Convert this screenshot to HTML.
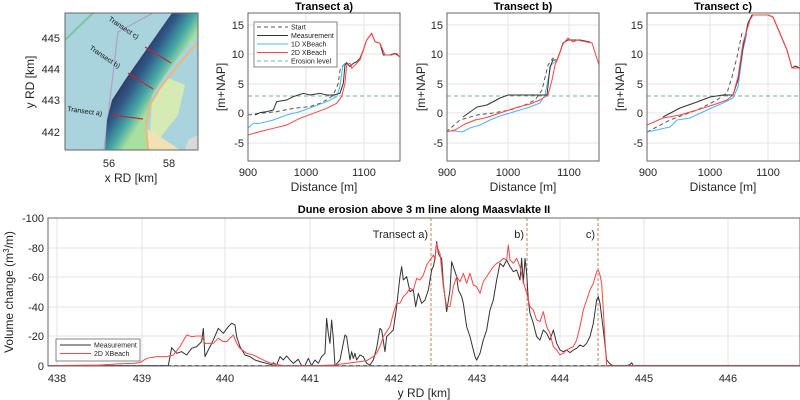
<!DOCTYPE html>
<html><head><meta charset="utf-8"><style>
body{margin:0;background:#fff}
svg{display:block;font-family:"Liberation Sans",Arial,sans-serif}
.t{font-size:11px;fill:#262626}
.ti{font-size:11px;font-weight:bold;fill:#000}
.lab{font-size:12px;fill:#262626}
.g{stroke:#e3e3e3;stroke-width:1}
.ax{fill:none;stroke:#666;stroke-width:1}
.ln{fill:none;stroke-width:1;stroke-linejoin:round}
</style></head><body>
<svg width="800" height="400" viewBox="0 0 800 400">
<defs>
<clipPath id="cm"><rect x="65" y="13" width="133" height="137"/></clipPath>
<clipPath id="ca"><rect x="248" y="13" width="152" height="148"/></clipPath>
<clipPath id="cb"><rect x="447" y="13" width="152" height="148"/></clipPath>
<clipPath id="cc"><rect x="647" y="13" width="153" height="148"/></clipPath>
<clipPath id="cd"><rect x="48" y="218" width="752" height="148"/></clipPath>
<linearGradient id="dg" gradientUnits="userSpaceOnUse" x1="118" y1="70" x2="158" y2="95">
<stop offset="0" stop-color="#2a1d45"/><stop offset="0.45" stop-color="#2f5a88"/><stop offset="0.75" stop-color="#45a8a5"/><stop offset="1" stop-color="#a8e0a0"/></linearGradient>
</defs>

<!-- MAP -->
<g clip-path="url(#cm)">
<rect x="65" y="13" width="133" height="137" fill="#a9d4de"/>
<polygon points="150,135 152,100 168,78 185,85 178,115 160,138" fill="#d6ebb3"/>
<polygon points="145,150 146,128 165,140 180,150" fill="#f2e1b3"/>
<polygon points="188,140 198,135 198,150 185,150" fill="#d9d9d9"/>
<polyline points="65,40 93,13" fill="none" stroke="#7fc4a0" stroke-width="2"/>
<polyline points="104,150 118,32 153,13" fill="none" stroke="#b49fc4" stroke-width="1.2"/>
<polygon points="105,150 107,120 112,100 125,80 160,30 172,13 198,13 198,35 180,55 165,75 152,95 148,115 147,150" fill="url(#dg)"/>
<polyline points="148,150 146,125 150,105 160,88 178,65 198,42" fill="none" stroke="#f0b878" stroke-width="2"/>
<g stroke="#d02030" stroke-width="1.2">
<line x1="112" y1="115" x2="143" y2="119"/><line x1="128" y1="73" x2="153" y2="89"/><line x1="145" y1="47" x2="171" y2="63"/></g>
<g font-size="7" fill="#111">
<text transform="translate(67,111) rotate(8)">Transect a)</text>
<text transform="translate(89,49) rotate(34)">Transect b)</text>
<text transform="translate(108,20) rotate(34)">Transect c)</text></g>
</g>
<rect class="ax" x="65" y="13" width="133" height="137"/>
<g class="t" text-anchor="end"><text x="60" y="42">445</text><text x="60" y="73">444</text><text x="60" y="104">443</text><text x="60" y="136">442</text></g>
<g class="t" text-anchor="middle"><text x="109" y="167">56</text><text x="169" y="167">58</text></g>
<text class="lab" x="131" y="182" text-anchor="middle">x RD [km]</text>
<text class="lab" transform="translate(34,82) rotate(-90)" text-anchor="middle">y RD [km]</text>

<!-- PANEL TEMPLATE: grids -->
<g class="g">
<line x1="248" x2="400" y1="25" y2="25"/><line x1="248" x2="400" y1="54" y2="54"/><line x1="248" x2="400" y1="84" y2="84"/><line x1="248" x2="400" y1="113" y2="113"/><line x1="248" x2="400" y1="143" y2="143"/>
<line x1="306" x2="306" y1="13" y2="161"/><line x1="364" x2="364" y1="13" y2="161"/>
<line x1="447" x2="599" y1="25" y2="25"/><line x1="447" x2="599" y1="54" y2="54"/><line x1="447" x2="599" y1="84" y2="84"/><line x1="447" x2="599" y1="113" y2="113"/><line x1="447" x2="599" y1="143" y2="143"/>
<line x1="508" x2="508" y1="13" y2="161"/><line x1="569" x2="569" y1="13" y2="161"/>
<line x1="647" x2="800" y1="25" y2="25"/><line x1="647" x2="800" y1="54" y2="54"/><line x1="647" x2="800" y1="84" y2="84"/><line x1="647" x2="800" y1="113" y2="113"/><line x1="647" x2="800" y1="143" y2="143"/>
<line x1="710" x2="710" y1="13" y2="161"/><line x1="768" x2="768" y1="13" y2="161"/>
</g>

<!-- Panel a -->
<g clip-path="url(#ca)">
<line x1="248" x2="400" y1="96" y2="96" stroke="#6fb59a" stroke-dasharray="4,3"/>
<g transform="translate(260,0) scale(0.3333)">
<polyline class="ln" vector-effect="non-scaling-stroke" stroke="#555" stroke-dasharray="4,3" points="-36,345 0,340 50,335 100,325 150,320 180,310 200,300 220,285 235,250 240,210 250,195 262,190"/>
<polyline class="ln" vector-effect="non-scaling-stroke" stroke="#4db3ff" points="-36,384 -20,370 0,370 40,360 80,345 120,335 160,320 200,305 230,290 240,260 248,200 255,190 260,192"/>
<polyline class="ln" vector-effect="non-scaling-stroke" stroke="#333" points="-15,345 0,338 20,335 40,330 50,305 80,300 100,290 130,280 150,285 180,280 200,285 220,285 240,280 250,250 255,195 260,188 270,200 280,190 290,185 300,175 310,150 320,120 335,100 345,125 360,130 370,165 390,165 405,160 418,170"/>
<polyline class="ln" vector-effect="non-scaling-stroke" stroke="#ff4545" points="-36,405 0,395 40,385 80,375 120,355 160,340 200,325 230,310 245,290 255,250 260,195 270,190 275,205 285,195 300,180 320,120 335,100 345,125 360,130 375,165 395,165 410,160 418,170"/>
</g></g>
<rect class="ax" x="248" y="13" width="152" height="148"/>
<text class="ti" x="324" y="10" text-anchor="middle">Transect a)</text>
<g class="t" text-anchor="end"><text x="244" y="29">15</text><text x="244" y="58">10</text><text x="244" y="88">5</text><text x="244" y="117">0</text><text x="244" y="147">-5</text></g>
<g class="t" text-anchor="middle"><text x="248" y="176">900</text><text x="306" y="176">1000</text><text x="364" y="176">1100</text></g>
<text class="lab" x="324" y="191" text-anchor="middle">Distance [m]</text>
<text class="lab" transform="translate(225,87) rotate(-90)" text-anchor="middle">[m+NAP]</text>
<!-- legend a -->
<rect x="254" y="22" width="83" height="45" fill="#fff" stroke="#666" stroke-width="0.8"/>
<g stroke-width="1">
<line x1="257" x2="288" y1="27" y2="27" stroke="#555" stroke-dasharray="4,3"/>
<line x1="257" x2="288" y1="35.5" y2="35.5" stroke="#333"/>
<line x1="257" x2="288" y1="44" y2="44" stroke="#4db3ff"/>
<line x1="257" x2="288" y1="52.5" y2="52.5" stroke="#ff4545"/>
<line x1="257" x2="288" y1="61" y2="61" stroke="#6fb59a" stroke-dasharray="4,3"/></g>
<g font-size="7" fill="#222"><text x="291" y="29.5">Start</text><text x="291" y="38">Measurement</text><text x="291" y="46.5">1D XBeach</text><text x="291" y="55">2D XBeach</text><text x="291" y="63.5">Erosion level</text></g>

<!-- Panel b -->
<g clip-path="url(#cb)">
<line x1="447" x2="599" y1="96" y2="96" stroke="#6fb59a" stroke-dasharray="4,3"/>
<polyline class="ln" stroke="#555" stroke-dasharray="4,3" points="446,132 460,120 477,115 493,113 510,110 525,105 535,100 542,90 548,65 553,58 556,62"/>
<polyline class="ln" stroke="#4db3ff" points="446,131 455,131 462,132 470,128 480,125 490,120 500,116 510,113 520,110 530,107 540,103 545,95 548,80 551,65 555,62"/>
<polyline class="ln" stroke="#333" points="463,117 477,107 487,105 500,98 508,95 547,95 550,67 553,60 557,60 560,52 563,43 568,40 572,40 576,40 580,40 590,42"/>
<polyline class="ln" stroke="#ff4545" points="446,132 455,130 465,124 475,120 485,118 500,113 515,108 530,104 540,100 548,95 552,80 555,65 558,58 563,44 568,38 573,42 577,40 592,43 599,65"/>
</g>
<rect class="ax" x="447" y="13" width="152" height="148"/>
<text class="ti" x="523" y="10" text-anchor="middle">Transect b)</text>
<g class="t" text-anchor="end"><text x="443" y="29">15</text><text x="443" y="58">10</text><text x="443" y="88">5</text><text x="443" y="117">0</text><text x="443" y="147">-5</text></g>
<g class="t" text-anchor="middle"><text x="447" y="176">900</text><text x="508" y="176">1000</text><text x="569" y="176">1100</text></g>
<text class="lab" x="523" y="191" text-anchor="middle">Distance [m]</text>
<text class="lab" transform="translate(425,87) rotate(-90)" text-anchor="middle">[m+NAP]</text>

<!-- Panel c -->
<g clip-path="url(#cc)">
<line x1="647" x2="800" y1="96" y2="96" stroke="#6fb59a" stroke-dasharray="4,3"/>
<polyline class="ln" stroke="#555" stroke-dasharray="4,3" points="647,132 670,120 697,110 717,100 727,93 732,77 737,57 742,33"/>
<polyline class="ln" stroke="#4db3ff" points="647,132 670,127 677,120 690,118 707,110 723,103 733,98 738,87 743,50 747,33"/>
<polyline class="ln" stroke="#333" points="663,117 680,108 697,102 710,97 723,95 733,95 738,80 743,47 748,23 752,15 768,15 773,17 787,50 792,68 795,66 800,68"/>
<polyline class="ln" stroke="#ff4545" points="647,125 663,118 680,115 697,110 713,105 727,100 733,95 738,77 743,43 750,20 753,15 768,15 773,17 787,50 792,68 800,68"/>
</g>
<rect class="ax" x="647" y="13" width="153" height="148"/>
<text class="ti" x="723" y="10" text-anchor="middle">Transect c)</text>
<g class="t" text-anchor="end"><text x="643" y="29">15</text><text x="643" y="58">10</text><text x="643" y="88">5</text><text x="643" y="117">0</text><text x="643" y="147">-5</text></g>
<g class="t" text-anchor="middle"><text x="648" y="176">900</text><text x="710" y="176">1000</text><text x="768" y="176">1100</text></g>
<text class="lab" x="723" y="191" text-anchor="middle">Distance [m]</text>
<text class="lab" transform="translate(624,87) rotate(-90)" text-anchor="middle">[m+NAP]</text>

<!-- BOTTOM -->
<g class="g">
<line x1="48" x2="800" y1="248" y2="248"/><line x1="48" x2="800" y1="277" y2="277"/><line x1="48" x2="800" y1="307" y2="307"/><line x1="48" x2="800" y1="336" y2="336"/>
<line x1="57" x2="57" y1="218" y2="366"/><line x1="142" x2="142" y1="218" y2="366"/><line x1="225" x2="225" y1="218" y2="366"/><line x1="310" x2="310" y1="218" y2="366"/><line x1="394" x2="394" y1="218" y2="366"/><line x1="477" x2="477" y1="218" y2="366"/><line x1="560" x2="560" y1="218" y2="366"/><line x1="644" x2="644" y1="218" y2="366"/><line x1="728" x2="728" y1="218" y2="366"/>
</g>
<g clip-path="url(#cd)">
<line x1="48" x2="800" y1="365.5" y2="365.5" stroke="#777" stroke-dasharray="4,3"/>
<g stroke="#c8805a" stroke-dasharray="3,2"><line x1="431" x2="431" y1="218" y2="366"/><line x1="527" x2="527" y1="218" y2="366"/><line x1="598" x2="598" y1="218" y2="366"/></g>
<g transform="translate(0,200) scale(0.3333)">
<polyline class="ln" vector-effect="non-scaling-stroke" stroke="#333" points="145,497 505,497 515,443 530,460 545,455 560,465 575,445 590,440 605,425 610,385 615,470 625,450 640,420 655,385 670,400 685,380 695,370 705,375 710,410 720,440 735,465 750,470 765,480 780,485 800,490 815,495 820,488 830,495 840,470 850,480 860,468 870,480 880,490 895,478 905,497 915,497 925,475 935,497 945,480 955,490 965,470 975,460 980,355 985,400 990,430 995,360 1000,415 1005,497 1020,480 1030,430 1035,405 1040,410 1050,480 1055,455 1060,475 1065,460 1070,480 1080,465 1090,470 1100,490 1110,495 1120,480 1130,445 1140,385 1145,390 1155,455 1160,410 1170,400 1180,390 1190,320 1200,230"/>
<polyline class="ln" vector-effect="non-scaling-stroke" stroke="#ff4545" points="145,497 300,495 350,492 400,490 420,488 440,475 470,470 500,470 520,465 540,440 560,405 575,410 590,408 605,408 615,430 625,430 640,430 655,415 670,425 680,425 690,415 700,405 710,430 720,445 740,460 760,465 780,475 800,485 820,492 850,497 950,497 1000,495 1040,490 1080,485 1100,482 1120,470 1130,460 1140,440 1150,410 1160,395 1170,380 1180,340 1190,310 1200,310"/>
</g>
<g transform="translate(400,200) scale(0.3333)">
<polyline class="ln" vector-effect="non-scaling-stroke" stroke="#333" points="0,230 5,200 10,240 20,230 30,275 40,270 47,320 55,280 65,310 75,300 85,270 95,210 100,200 105,175 110,125 115,160 120,170 125,175 130,250 140,335 150,270 155,185 160,200 170,230 175,270 185,290 190,310 200,380 210,410 215,430 225,470 230,480 240,460 250,420 260,390 270,330 280,300 290,240 300,190 310,200 320,180 330,200 340,215 350,210 360,240 365,175 370,250 375,175 380,220 385,300 390,340 400,370 410,410 420,420 430,390 440,400 450,420 460,390 470,430 480,450 490,455 500,450 510,458 520,450 530,445 540,435 550,440 560,430 570,410 580,370 590,300 595,290 600,310 610,390 620,480 630,492 640,497 680,497 690,494 695,488 700,497 1200,497"/>
<polyline class="ln" vector-effect="non-scaling-stroke" stroke="#ff4545" points="0,310 10,290 20,280 30,265 40,270 50,235 60,240 70,225 80,195 90,180 100,165 105,180 110,130 115,150 120,160 130,260 140,320 150,320 160,260 170,230 180,245 190,220 200,250 210,220 220,255 230,260 240,280 250,245 260,230 270,215 280,200 290,190 300,185 310,175 320,180 325,135 330,180 340,190 350,175 360,200 370,245 380,280 390,320 400,330 410,360 420,365 430,335 440,380 450,400 460,440 470,450 480,465 490,460 500,450 510,445 520,440 530,420 540,380 550,330 560,300 570,270 580,250 590,215 595,210 600,225 605,250 610,330 615,420 620,497 1200,497"/>
</g>
</g>
<rect class="ax" x="48" y="218" width="752" height="148"/>
<g class="t" text-anchor="end"><text x="428" y="238">Transect a)</text><text x="524" y="238">b)</text><text x="595" y="238">c)</text></g>
<text class="ti" x="424" y="213" text-anchor="middle">Dune erosion above 3 m line along Maasvlakte II</text>
<g class="t" text-anchor="end"><text x="44" y="222">-100</text><text x="44" y="252">-80</text><text x="44" y="281">-60</text><text x="44" y="311">-40</text><text x="44" y="340">-20</text><text x="44" y="370">0</text></g>
<g class="t" text-anchor="middle"><text x="57" y="382">438</text><text x="142" y="382">439</text><text x="225" y="382">440</text><text x="310" y="382">441</text><text x="394" y="382">442</text><text x="477" y="382">443</text><text x="560" y="382">444</text><text x="644" y="382">445</text><text x="728" y="382">446</text></g>
<text class="lab" x="424" y="397" text-anchor="middle">y RD [km]</text>
<text class="lab" transform="translate(13,292) rotate(-90)" text-anchor="middle">Volume change (m<tspan font-size="8" dy="-4">3</tspan><tspan dy="4">/m)</tspan></text>
<rect x="56" y="339" width="84" height="22" fill="#fff" stroke="#666" stroke-width="0.8"/>
<line x1="60" x2="91" y1="345" y2="345" stroke="#333"/>
<line x1="60" x2="91" y1="353.5" y2="353.5" stroke="#ff4545"/>
<g font-size="7" fill="#222"><text x="94" y="347.5">Measurement</text><text x="94" y="356">2D XBeach</text></g>
</svg>
</body></html>
